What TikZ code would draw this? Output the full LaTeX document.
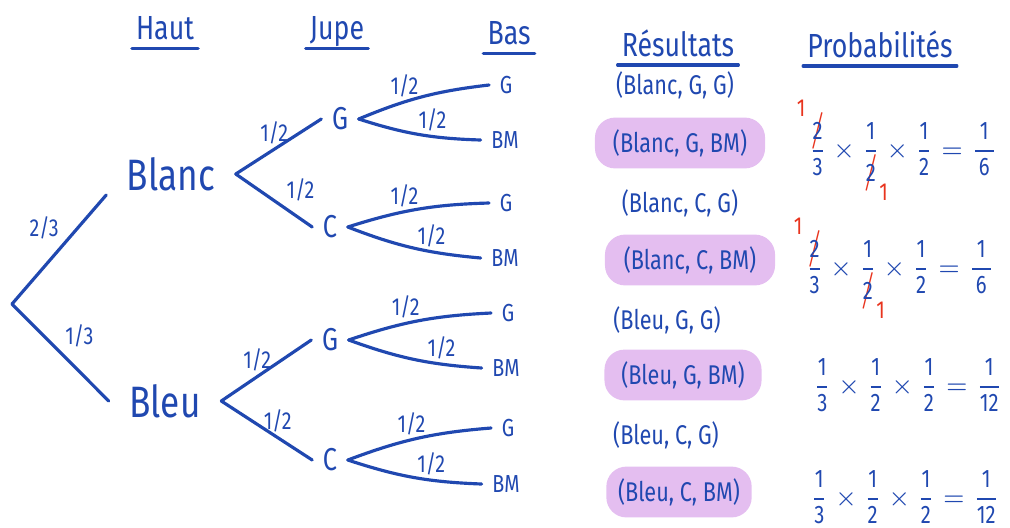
\documentclass[tikz,border=0pt]{standalone}
\usepackage{amsmath}
\usepackage{cancel}
\usepackage{fontspec}
\setmainfont{Fira Sans}[FakeStretch=0.8]
\usepackage{tikz}

\definecolor{ink}{RGB}{32,72,176}
\definecolor{hilite}{RGB}{228,190,240}
\definecolor{redink}{RGB}{232,52,30}
\renewcommand{\CancelColor}{\color{redink}}
\newcommand{\fr}[2]{\dfrac{\text{#1}}{\text{#2}}}
\newcommand{\upone}{\llap{\textcolor{redink}{\raisebox{1.7ex}{\scriptsize 1}}\hspace{2pt}}}
\newcommand{\downone}{\rlap{\hspace{1pt}\textcolor{redink}{\raisebox{-1.4ex}{\scriptsize 1}}}}

\begin{document}
\begin{tikzpicture}[x=0.01cm, y=-0.01cm, line cap=round, line join=round,
		every node/.style={text=ink},
		branch_style/.style={draw=ink, line width=0.9pt},
		top_style/.style={font=\fontsize{12.5}{14}\selectfont, inner xsep=0.2cm, inner ysep=1pt},
		mid_style/.style={font=\fontsize{9}{11}\selectfont, inner xsep=0.1cm},
		leaf_style/.style={font=\fontsize{7}{8}\selectfont, inner xsep=0.1cm},
		prob_style/.style={font=\fontsize{7}{8}\selectfont, inner sep=1pt},
		head_style/.style={font=\fontsize{9.5}{11}\selectfont, inner xsep=1pt},
		res_style/.style={font=\fontsize{7.7}{10}\selectfont},
		pick_style/.style={res_style, fill=hilite, rounded corners=0.2cm, minimum height=0.46cm},
		calc_style/.style={font=\fontsize{7.2}{9}\selectfont, inner sep=0pt}]
		
		\useasboundingbox (0,0) rectangle (1010,527);
		
		% column titles
		\node[head_style] (haut) at (165,28)  {Haut};
		\node[head_style] (jupe) at (337,32)  {Jupe};
		\node[head_style] (bas) at (509,33)  {Bas};
		\node[head_style] (res) at (678,43)  {Résultats};
		\node[head_style] (proba) at (880,44)  {Probabilités};
		\foreach \h in {haut,jupe,bas,res,proba}
			\draw[branch_style] ([yshift=-2.5pt]\h.base west) -- ([yshift=-2.5pt]\h.base east);
		
		% tree
		\coordinate (root) at (12,304);
		\node[top_style] (blanc) at (171,174)  {Blanc};
		\node[top_style] (bleu) at (165,401)  {Bleu};
		\node[mid_style] (g1) at (340,119)  {G};
		\node[mid_style] (c1) at (330,227)  {C};
		\node[mid_style] (g2) at (330,340)  {G};
		\node[mid_style] (c2) at (330,460)  {C};
		\node[leaf_style] (g1g) at (506,85)  {G};
		\node[leaf_style] (g1b) at (505,140)  {BM};
		\node[leaf_style] (c1g) at (506,203)  {G};
		\node[leaf_style] (c1b) at (505,258)  {BM};
		\node[leaf_style] (g2g) at (508,313)  {G};
		\node[leaf_style] (g2b) at (506,368)  {BM};
		\node[leaf_style] (c2g) at (508,428)  {G};
		\node[leaf_style] (c2b) at (506,484)  {BM};
		
		\draw[branch_style]  (root) -- node[prob_style, above left, pos=0.55] {2/3} (blanc.south west);
		\draw[branch_style]  (root) -- node[prob_style, above right, pos=0.5] {1/3} (bleu.west);
		\draw[branch_style]  (blanc.east) -- node[prob_style, above, pos=0.45] {1/2} (g1.west);
		\draw[branch_style]  (blanc.east) -- node[prob_style, above right, pos=0.6] {1/2} (c1.west);
		\draw[branch_style]  (bleu.east) -- node[prob_style, above, pos=0.4] {1/2} (g2.west);
		\draw[branch_style]  (bleu.east) -- node[prob_style, above, pos=0.62] {1/2} (c2.west);
		\draw[branch_style]  (g1.east) to[bend left=8] node[prob_style, above, pos=0.35] {1/2} (g1g.west);
		\draw[branch_style]  (g1.east) to[bend right=8] node[prob_style, above, pos=0.62] {1/2} (g1b.west);
		\draw[branch_style]  (c1.east) to[bend left=8] node[prob_style, above, pos=0.4] {1/2} (c1g.west);
		\draw[branch_style]  (c1.east) to[bend right=8] node[prob_style, above, pos=0.65] {1/2} (c1b.west);
		\draw[branch_style]  (g2.east) to[bend left=8] node[prob_style, above, pos=0.4] {1/2} (g2g.west);
		\draw[branch_style]  (g2.east) to[bend right=8] node[prob_style, above, pos=0.72] {1/2} (g2b.west);
		\draw[branch_style]  (c2.east) to[bend left=8] node[prob_style, above, pos=0.45] {1/2} (c2g.west);
		\draw[branch_style]  (c2.east) to[bend right=8] node[prob_style, above, pos=0.64] {1/2} (c2b.west);
		
		% outcomes
		\node[res_style] (r1) at (675,85)  {(Blanc, G, G)};
		\node[pick_style, minimum width=1.7cm] (r2) at (680,143)  {(Blanc, G, BM)};
		\node[res_style] (r3) at (680,203)  {(Blanc, C, G)};
		\node[pick_style, minimum width=1.7cm] (r4) at (690,260)  {(Blanc, C, BM)};
		\node[res_style] (r5) at (667,320)  {(Bleu, G, G)};
		\node[pick_style, minimum width=1.57cm] (r6) at (683,375)  {(Bleu, G, BM)};
		\node[res_style] (r7) at (666,435)  {(Bleu, C, G)};
		\node[pick_style, minimum width=1.38cm] (r8) at (679,492)  {(Bleu, C, BM)};
		
		% products
		\node[calc_style] (p2) at (903,150)  {$\dfrac{\upone\cancel{\text{2}}}{\text{3}}\times\dfrac{\text{1}}{\cancel{\text{2}}\downone}\times\fr{1}{2}=\dfrac{\,\text{1}\,}{\text{6}}$};
		\node[calc_style] (p4) at (900,268)  {$\dfrac{\upone\cancel{\text{2}}}{\text{3}}\times\dfrac{\text{1}}{\cancel{\text{2}}\downone}\times\fr{1}{2}=\dfrac{\,\text{1}\,}{\text{6}}$};
		\node[calc_style] (p6) at (908,385)  {$\fr{1}{3}\times\fr{1}{2}\times\fr{1}{2}=\fr{1}{12}$};
		\node[calc_style] (p8) at (905,497)  {$\fr{1}{3}\times\fr{1}{2}\times\fr{1}{2}=\fr{1}{12}$};
		
\end{tikzpicture}
\end{document}
